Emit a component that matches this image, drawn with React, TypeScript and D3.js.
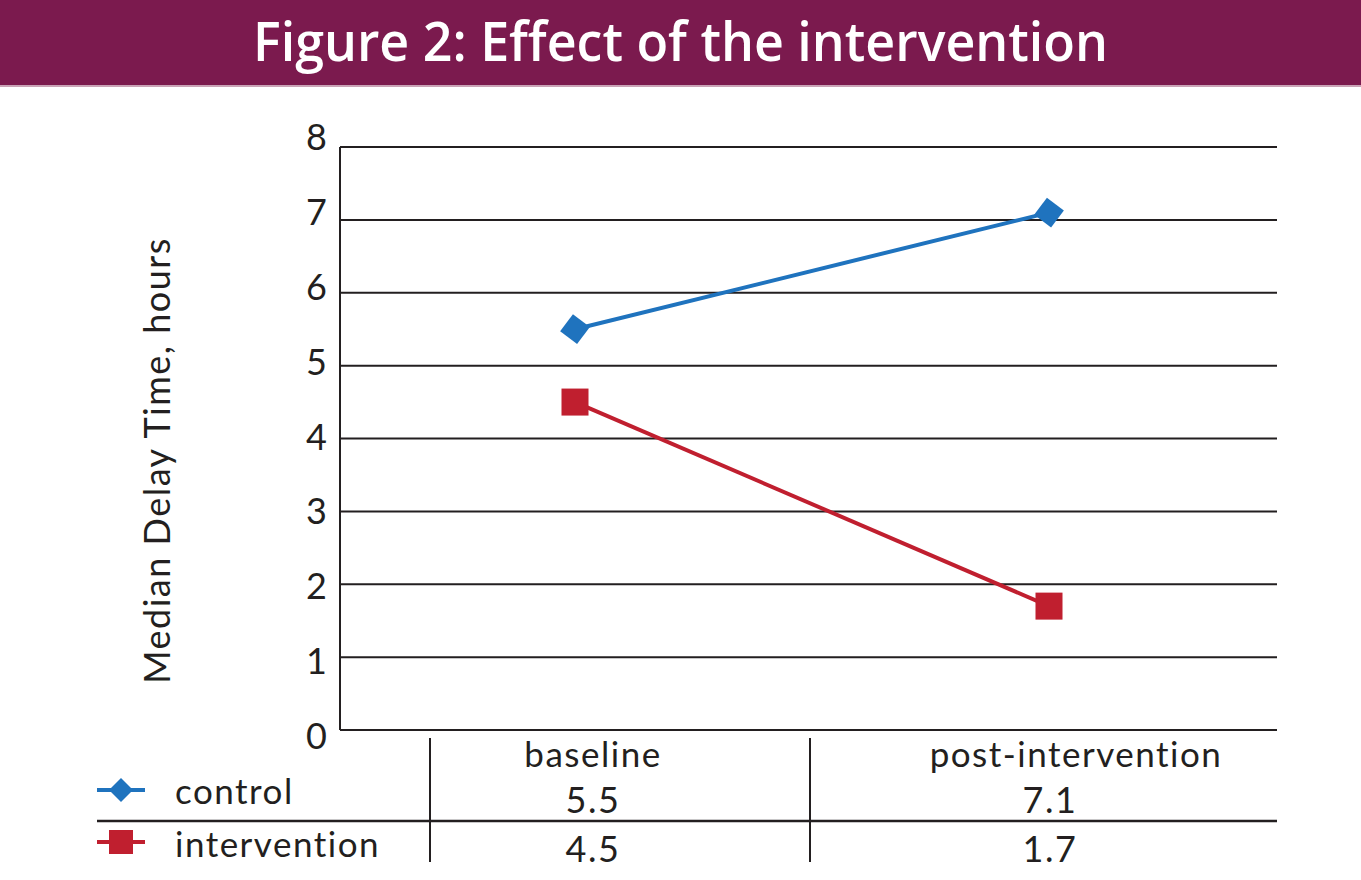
import React from 'react';
import * as d3 from 'd3';

// Chart data
const categories = ['baseline', 'post-intervention'];
const controlValues = [5.5, 7.1];
const interventionValues = [4.5, 1.7];
const yTicks = [0, 1, 2, 3, 4, 5, 6, 7, 8];
const seriesNames = ['control', 'intervention'];

const WIDTH = 1361;
const HEIGHT = 880;
const TEXT = '#231f20';
const BLUE = '#1f73be';
const RED = '#c01f2f';
const FONT = 'Lato, "Open Sans", sans-serif';

export default function App() {
  const plot = { left: 340, right: 1277, top: 147, bottom: 730 };

  const yScale = d3.scaleLinear().domain([0, 8]).range([plot.bottom, plot.top]);
  // tick labels sit on a slightly wider spacing than the gridlines
  const yLabelScale = d3.scaleLinear().domain([0, 8]).range([749, 150]);
  const xScale = d3.scalePoint<string>().domain(categories).range([575, 1049]);

  const series = [
    { name: seriesNames[0], values: controlValues, color: BLUE, shape: 'diamond' },
    { name: seriesNames[1], values: interventionValues, color: RED, shape: 'square' },
  ];

  const line = d3
    .line<number>()
    .x((_d, i) => xScale(categories[i]) as number)
    .y(d => yScale(d));

  const marker = (shape: string, cx: number, cy: number, color: string, s: number) =>
    shape === 'diamond' ? (
      <path
        d={`M${cx - s},${cy} L${cx},${cy - s} L${cx + s},${cy} L${cx},${cy + s} Z`}
        fill={color}
        transform={`rotate(-8, ${cx}, ${cy})`}
      />
    ) : (
      <rect x={cx - s} y={cy - s} width={s * 2} height={s * 2} fill={color} />
    );

  // table geometry
  const colDividers = [430, 810];
  const labelOffsets = [18, 27];
  const valueOffsets = [18, 1];
  const rowBaselines = [813, 862];
  const legendRowY = [790, 842];
  const legendText = [804, 857];

  return (
    <svg
      width={WIDTH}
      height={HEIGHT}
      style={{ position: 'absolute', left: 0, top: 0, background: '#fff' }}
      fontFamily={FONT}
    >
      {/* title bar */}
      <rect x={0} y={0} width={WIDTH} height={85} fill="#7b1a4e" />
      <rect x={0} y={85} width={WIDTH} height={2} fill="#c9a3b6" />
      <text
        x={WIDTH / 2}
        y={61}
        textAnchor="middle"
        fill="#fff"
        fontSize={55}
        fontWeight={600}
        fontFamily='"Open Sans", sans-serif'
        textLength={855}
        lengthAdjust="spacingAndGlyphs"
      >
        Figure 2: Effect of the intervention
      </text>

      {/* gridlines */}
      {yTicks.map(t => (
        <line
          key={t}
          x1={plot.left}
          x2={plot.right}
          y1={yScale(t)}
          y2={yScale(t)}
          stroke="#231f20"
          strokeWidth={2}
        />
      ))}
      <line x1={plot.left} x2={plot.left} y1={plot.top} y2={plot.bottom} stroke="#231f20" strokeWidth={2} />

      {/* y tick labels */}
      {yTicks.map(t => (
        <text key={t} x={327} y={yLabelScale(t)} textAnchor="end" fontSize={36} fill={TEXT}>
          {t}
        </text>
      ))}

      {/* y axis title */}
      <text
        transform={`translate(170, ${(plot.top + plot.bottom) / 2 + 22}) rotate(-90)`}
        textAnchor="middle"
        fontSize={36}
        fill={TEXT}
        letterSpacing={1.5}
      >
        Median Delay Time, hours
      </text>

      {/* series */}
      {series.map(s => (
        <g key={s.name}>
          <path d={line(s.values) || ''} fill="none" stroke={s.color} strokeWidth={4} />
          {s.values.map((v, i) => (
            <g key={i}>{marker(s.shape, xScale(categories[i]) as number, yScale(v), s.color, s.shape === 'diamond' ? 15 : 13.5)}</g>
          ))}
        </g>
      ))}

      {/* data table */}
      {colDividers.map(x => (
        <line key={x} x1={x} x2={x} y1={738} y2={862} stroke="#231f20" strokeWidth={2} />
      ))}
      <line x1={97} x2={plot.right} y1={821} y2={821} stroke="#231f20" strokeWidth={2.5} />

      {categories.map((c, i) => (
        <text
          key={c}
          x={(xScale(c) as number) + labelOffsets[i]}
          y={767}
          textAnchor="middle"
          fontSize={35}
          fill={TEXT}
          letterSpacing={1.5}
        >
          {c}
        </text>
      ))}

      {series.map((s, r) => (
        <g key={s.name}>
          {/* legend key */}
          <line x1={97} x2={145} y1={legendRowY[r]} y2={legendRowY[r]} stroke={s.color} strokeWidth={4} />
          {s.shape === 'diamond' ? (
            <path
              d={`M${121 - 12},${legendRowY[r]} L${121},${legendRowY[r] - 12} L${121 + 12},${legendRowY[r]} L${121},${legendRowY[r] + 12} Z`}
              fill={s.color}
            />
          ) : (
            <rect x={121 - 12} y={legendRowY[r] - 12} width={24} height={24} fill={s.color} />
          )}
          <text x={175} y={legendText[r]} fontSize={35} fill={TEXT} letterSpacing={1.5}>
            {s.name}
          </text>
          {s.values.map((v, i) => (
            <text
              key={i}
              x={(xScale(categories[i]) as number) + valueOffsets[i]}
              y={rowBaselines[r]}
              textAnchor="middle"
              fontSize={36}
              fill={TEXT}
              letterSpacing={1.5}
            >
              {v.toFixed(1)}
            </text>
          ))}
        </g>
      ))}
    </svg>
  );
}
